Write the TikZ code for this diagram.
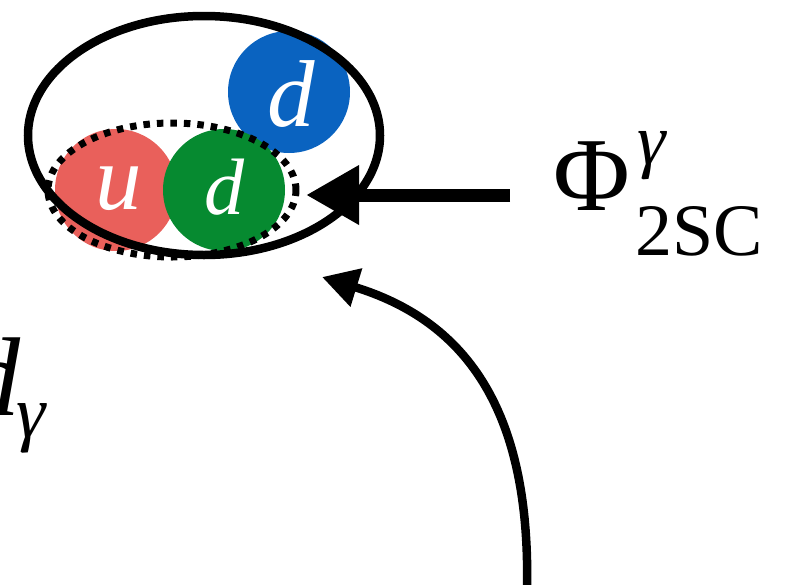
\documentclass[tikz,border=0pt]{standalone}
\usepackage{fontspec}
\setmainfont{Liberation Serif}
\usetikzlibrary{arrows.meta,shapes.geometric}
\definecolor{qred}{HTML}{E9605B}
\definecolor{qgreen}{HTML}{068A30}
\definecolor{qblue}{HTML}{0A63C0}
\newcommand{\fs}[1]{\fontsize{#1}{#1}\selectfont}
\tikzset{
  quark/.style={circle, fill=#1, minimum size=122pt, inner sep=0pt},
  flavour/.style={text=white, inner sep=0pt, font=\itshape},
  baryonring/.style={ellipse, draw=black, line width=8.5pt, inner sep=0pt},
  diquarkring/.style={ellipse, draw=black, line width=7pt, dash pattern=on 6.5pt off 7pt, inner sep=0pt},
  bigarrow/.style={line width=13pt, -{Triangle[length=53pt,width=56pt]}},
  bendarrow/.style={line width=8.5pt, -{Triangle[length=36pt,width=38pt]}},
  lbl/.style={inner sep=0pt}
}
\begin{document}
\begin{tikzpicture}[x=1pt,y=-1pt]
\useasboundingbox (0,0) rectangle (790,584);
% quarks
\node[quark=qblue] (qb) at (289,92) {};
\node[quark=qred] (qr) at (116,190) {};
\node[quark=qgreen] (qg) at (224,190) {};
\node[flavour, font=\fs{95}\itshape] (lb) at (291,94) {d};
\node[flavour, font=\fs{93}\itshape] (lr) at (119,189) {u};
\node[flavour, font=\fs{80}\itshape] (lg) at (224,187) {d};
% baryon and diquark outlines
\node[baryonring, minimum width=352pt, minimum height=239pt] (baryon) at (204,135.5) {};
\node[diquarkring, minimum width=248pt, minimum height=134pt] (diquark) at (172,190) {};
% labels
\node[lbl, anchor=base west, font=\fs{105}] (phi) at (553,210) {Φ};
\node[lbl, font=\fs{72}\itshape] (phisup) at (652,156) {γ};
\node[lbl, anchor=base west, font=\fs{74}] (phisub) at (635,255) {2SC};
\node[lbl, anchor=base west, font=\fs{112}\itshape] (dl) at (-36,415)
  {d\kern-4pt\raisebox{-22pt}{\fs{74}γ}};
% arrows
\coordinate (hstart) at (510,195);
\coordinate (htip) at (306,195);
\draw[bigarrow] (hstart) -- (htip);
\coordinate (cstart) at (527,590);
\coordinate (ctip) at (322,277);
\draw[bendarrow] (cstart) .. controls (531,405) and (462,320) .. (ctip);
\end{tikzpicture}
\end{document}
